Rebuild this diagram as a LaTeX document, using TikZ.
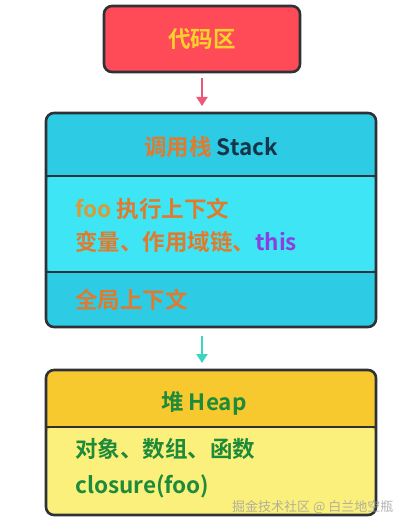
\documentclass[tikz,border=0pt]{standalone}
\usepackage{fontspec}
\setmainfont{Noto Sans CJK SC}[BoldFont={* Bold}]
\usetikzlibrary{arrows.meta}
\definecolor{bordercol}{HTML}{2E3236}
\definecolor{codefill}{HTML}{FF4B57}
\definecolor{codetext}{HTML}{F7D12C}
\definecolor{arrowred}{HTML}{EA5A78}
\definecolor{stackhead}{HTML}{2ECBE5}
\definecolor{stackmid}{HTML}{3DE5F5}
\definecolor{orangetext}{HTML}{E27A2E}
\definecolor{footext}{HTML}{D89B36}
\definecolor{purpletext}{HTML}{8B3FE0}
\definecolor{darktext}{HTML}{17354A}
\definecolor{arrowteal}{HTML}{3BD6BE}
\definecolor{heaphead}{HTML}{F8C92E}
\definecolor{heapbody}{HTML}{FCF07C}
\definecolor{greentext}{HTML}{1E8B3A}
\tikzset{
  box/.style={draw=bordercol, line width=2.6pt, rounded corners=8pt, inner sep=0pt},
  divider/.style={draw=bordercol, line width=2.4pt},
  txt/.style={font=\bfseries\fontsize{22.5}{26}\selectfont, inner sep=0pt, anchor=base west},
  ctxt/.style={font=\bfseries\fontsize{22.5}{26}\selectfont, inner sep=0pt, anchor=base},
  flow/.style={line width=2pt, -{Triangle[width=11pt,length=9pt]}},
}
\begin{document}
\begin{tikzpicture}[x=1pt,y=-1pt]
\useasboundingbox[fill=white] (0,0) rectangle (418,524);
% code area
\node[box, fill=codefill, minimum width=196pt, minimum height=66pt] (code) at (202,39) {};
\node[ctxt, text=codetext] (codelbl) at (202,48) {代码区};
% stack
\node[box, fill=stackhead, minimum width=330pt, minimum height=214pt,
  path picture={\fill[stackmid] ([yshift=-63pt]path picture bounding box.north west) rectangle ([yshift=-159pt]path picture bounding box.north east);}] (stack) at (211,220) {};
\coordinate (s1l) at (46,176); \coordinate (s1r) at (376,176);
\coordinate (s2l) at (46,272); \coordinate (s2r) at (376,272);
\draw[divider] (s1l) -- (s1r);
\draw[divider] (s2l) -- (s2r);
\node[ctxt] (stacklbl) at (211,155) {\textcolor{orangetext}{调用栈} \textcolor{darktext}{Stack}};
\node[txt] (foo) at (75,217) {\textcolor{footext}{foo} \textcolor{orangetext}{执行上下文}};
\node[txt] (vars) at (75,250) {\textcolor{orangetext}{变量、作用域链、}\textcolor{purpletext}{this}};
\node[txt, text=orangetext] (global) at (75,308) {全局上下文};
% heap
\node[box, fill=heaphead, minimum width=330pt, minimum height=145pt,
  path picture={\fill[heapbody] ([yshift=-57pt]path picture bounding box.north west) rectangle (path picture bounding box.south east);}] (heap) at (211,442.5) {};
\coordinate (h1l) at (46,427); \coordinate (h1r) at (376,427);
\draw[divider] (h1l) -- (h1r);
\node[ctxt, text=greentext] (heaplbl) at (204,410) {堆 Heap};
\node[txt, text=greentext] (objs) at (75,457) {对象、数组、函数};
\node[txt, text=greentext] (clos) at (75,493) {closure(foo)};
% arrows
\coordinate (a1s) at (202,78); \coordinate (a1e) at (202,106);
\draw[flow, arrowred] (a1s) -- (a1e);
\coordinate (a2s) at (202,336); \coordinate (a2e) at (202,363);
\draw[flow, arrowteal] (a2s) -- (a2e);
% watermark
\node[font=\fontsize{13}{15}\selectfont, text=gray!75, opacity=0.8, anchor=base west, inner sep=0pt] (wm) at (232,511) {掘金技术社区 @ 白兰地空瓶};
\end{tikzpicture}
\end{document}
